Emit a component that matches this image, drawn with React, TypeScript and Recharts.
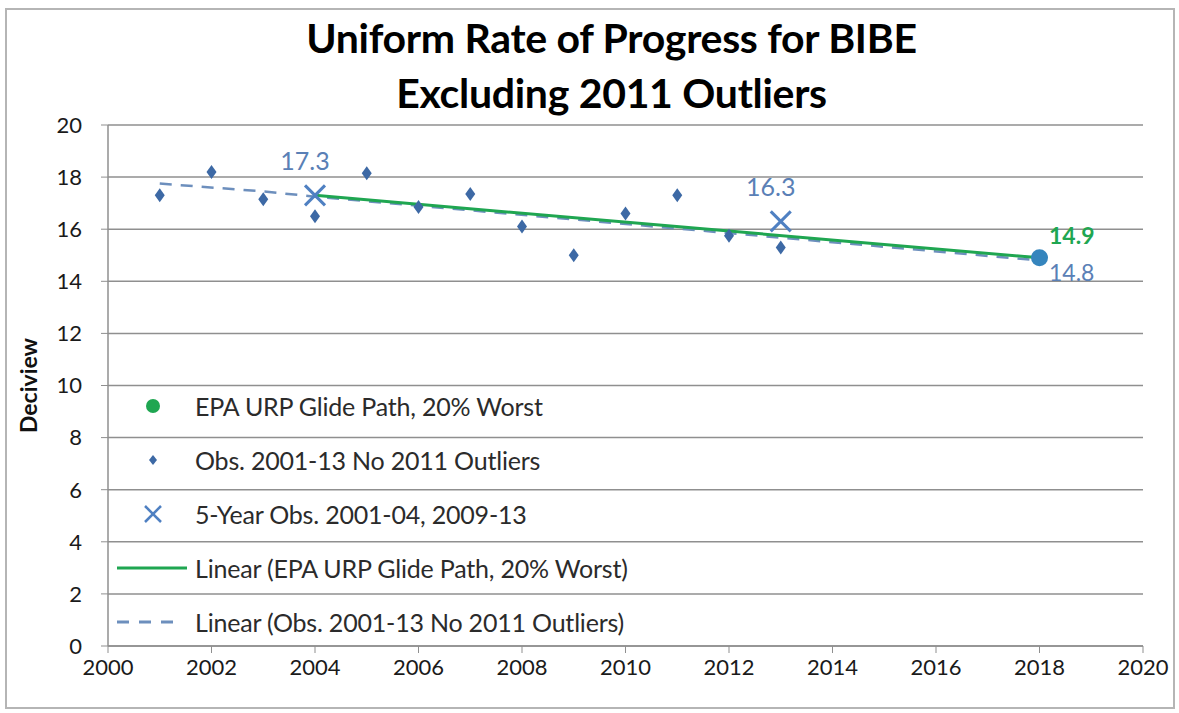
import { ScatterChart, Scatter, XAxis, YAxis, CartesianGrid, Legend, LabelList } from 'recharts';

const obsYears = [2001, 2002, 2003, 2004, 2005, 2006, 2007, 2008, 2009, 2010, 2011, 2012, 2013];
const obsValues = [17.3, 18.2, 17.15, 16.5, 18.15, 16.85, 17.35, 16.1, 15.0, 16.6, 17.3, 15.75, 15.3];

const fiveYearYears = [2004, 2013];
const fiveYearValues = [17.3, 16.3];

const glideYears = [2018];
const glideValues = [14.9];

const glideLineYears = [2004, 2018];
const glideLineValues = [17.3, 14.9];

const trendYears = [2001, 2003, 2004, 2018];
const trendValues = [17.75, 17.45, 17.25, 14.8];

const xTicks = [2000, 2002, 2004, 2006, 2008, 2010, 2012, 2014, 2016, 2018, 2020];
const yTicks = [0, 2, 4, 6, 8, 10, 12, 14, 16, 18, 20];

const legendLabels = [
  'EPA URP Glide Path, 20% Worst',
  'Obs. 2001-13 No 2011 Outliers',
  '5-Year Obs. 2001-04, 2009-13',
  'Linear (EPA URP Glide Path, 20% Worst)',
  'Linear (Obs. 2001-13 No 2011 Outliers)',
];

const toPoints = (xs: number[], ys: number[]) => xs.map((x, i) => ({ year: x, value: ys[i] }));

const FONT = "Lato, 'Open Sans', sans-serif";
const BLUE = '#3d69a5';
const XBLUE = '#4f80c2';
const GREEN = '#1fa651';
const LABEL_BLUE = '#5a80b6';
const GRID = '#8f8f8f';

const Diamond = (p: any) => {
  const { cx, cy } = p;
  if (cx == null || cy == null) return <g />;
  return <polygon points={`${cx},${cy - 7} ${cx + 5},${cy} ${cx},${cy + 7} ${cx - 5},${cy}`} fill={BLUE} />;
};

const XMark = (p: any) => {
  const { cx, cy } = p;
  if (cx == null || cy == null) return <g />;
  return (
    <g stroke={XBLUE} strokeWidth={3}>
      <line x1={cx - 10} y1={cy - 10} x2={cx + 10} y2={cy + 10} />
      <line x1={cx - 10} y1={cy + 10} x2={cx + 10} y2={cy - 10} />
    </g>
  );
};

const Dot = (p: any) => {
  const { cx, cy } = p;
  if (cx == null || cy == null) return <g />;
  return <circle cx={cx} cy={cy} r={8.5} fill="#3585bd" />;
};

const NoShape = () => <g />;

const LegendBox = () => (
  <div style={{ fontFamily: FONT, fontSize: 25, color: '#2b2b2b', letterSpacing: -0.2 }}>
    {legendLabels.map((label, i) => (
      <div key={label} style={{ display: 'flex', alignItems: 'center', height: 54 }}>
        <svg width={78} height={24} style={{ flex: 'none' }}>
          {i === 0 && <circle cx={36} cy={12} r={7} fill={GREEN} />}
          {i === 1 && <polygon points="36,7 40,12 36,17 32,12" fill={BLUE} />}
          {i === 2 && (
            <g stroke={XBLUE} strokeWidth={2.5}>
              <line x1={28} y1={4} x2={44} y2={20} />
              <line x1={28} y1={20} x2={44} y2={4} />
            </g>
          )}
          {i === 3 && <line x1={0} y1={12} x2={70} y2={12} stroke={GREEN} strokeWidth={3} />}
          {i === 4 && <line x1={0} y1={12} x2={62} y2={12} stroke="#6d8fbd" strokeWidth={3} strokeDasharray="12 10" />}
        </svg>
        <span style={{ whiteSpace: 'nowrap' }}>{label}</span>
      </div>
    ))}
  </div>
);

const lastLabel = (text: string, fill: string, dx: number, dy: number, bold: boolean) => (props: any) => {
  const { x, y, index } = props;
  if (index !== 0) return null;
  return (
    <text x={x + dx} y={y + dy} fill={fill} fontFamily={FONT} fontSize={23} fontWeight={bold ? 700 : 400} dominantBaseline="central">
      {text}
    </text>
  );
};

export default function App() {
  return (
    <div style={{ position: 'absolute', left: 0, top: 0, width: 1179, height: 713, background: '#fff', fontFamily: FONT }}>
      <div style={{ position: 'absolute', left: 5, top: 8, width: 1166, height: 697, border: '2px solid #b5b5b5' }} />
      <div
        style={{
          position: 'absolute',
          left: 0,
          width: 1179,
          top: 10,
          textAlign: 'center',
          fontFamily: FONT,
          fontWeight: 700,
          fontSize: 41,
          lineHeight: '55px',
          color: '#000',
          paddingLeft: 44,
          boxSizing: 'border-box',
          letterSpacing: -0.3,
        }}
      >
        <div>Uniform Rate of Progress for BIBE</div>
        <div>Excluding 2011 Outliers</div>
      </div>
      <ScatterChart width={1179} height={713} margin={{ top: 125, right: 36, bottom: 23, left: 30 }} style={{ position: 'absolute', left: 0, top: 0 }}>
        <CartesianGrid vertical={false} stroke={GRID} strokeWidth={1.5} />
        <XAxis
          type="number"
          dataKey="year"
          domain={[2000, 2020]}
          ticks={xTicks}
          height={44}
          axisLine={{ stroke: GRID, strokeWidth: 1.5 }}
          tickLine={{ stroke: GRID }}
          tickSize={7}
          tickMargin={6}
          tick={{ fill: '#1a1a1a', fontSize: 22, fontFamily: FONT }}
          interval={0}
        />
        <YAxis
          type="number"
          dataKey="value"
          domain={[0, 20]}
          ticks={yTicks}
          width={78}
          axisLine={{ stroke: GRID, strokeWidth: 1.5 }}
          tickLine={{ stroke: GRID }}
          tickSize={7}
          tickMargin={19}
          tick={{ fill: '#1a1a1a', fontSize: 22, fontFamily: FONT }}
          interval={0}
          label={{
            value: 'Deciview',
            angle: -90,
            position: 'insideLeft',
            offset: -1,
            style: { fontFamily: FONT, fontWeight: 700, fontSize: 23, fill: '#111', textAnchor: 'middle' },
          }}
        />
        <Legend
          layout="vertical"
          align="center"
          verticalAlign="middle"
          content={() => <LegendBox />}
          wrapperStyle={{ left: 117, top: 379, width: 620 }}
        />
        <Scatter
          name="Linear (Obs. 2001-13 No 2011 Outliers)"
          data={toPoints(trendYears, trendValues)}
          shape={NoShape}
          line={{ stroke: '#6d8fbd', strokeWidth: 2.5, strokeDasharray: '12 9' }}
          isAnimationActive={false}
        >
          <LabelList dataKey="value" content={(p: any) => (p.index === trendYears.length - 1 ? (
            <text x={p.x + 14} y={p.y + 16} fill={LABEL_BLUE} fontFamily={FONT} fontSize={23} dominantBaseline="central">14.8</text>
          ) : null)} />
        </Scatter>
        <Scatter
          name="Linear (EPA URP Glide Path, 20% Worst)"
          data={toPoints(glideLineYears, glideLineValues)}
          shape={NoShape}
          line={{ stroke: GREEN, strokeWidth: 3 }}
          isAnimationActive={false}
        />
        <Scatter name="Obs. 2001-13 No 2011 Outliers" data={toPoints(obsYears, obsValues)} shape={Diamond} isAnimationActive={false} />
        <Scatter name="5-Year Obs. 2001-04, 2009-13" data={toPoints(fiveYearYears, fiveYearValues)} shape={XMark} isAnimationActive={false}>
          <LabelList
            dataKey="value"
            content={(p: any) => (
              <text x={p.x + p.width / 2 - 10} y={p.y - 31} fill={LABEL_BLUE} fontFamily={FONT} fontSize={25} textAnchor="middle" dominantBaseline="central">
                {Number(p.value).toFixed(1)}
              </text>
            )}
          />
        </Scatter>
        <Scatter name="EPA URP Glide Path, 20% Worst" data={toPoints(glideYears, glideValues)} shape={Dot} isAnimationActive={false}>
          <LabelList dataKey="value" content={lastLabel('14.9', GREEN, 14, -18, true)} />
        </Scatter>
      </ScatterChart>
    </div>
  );
}
